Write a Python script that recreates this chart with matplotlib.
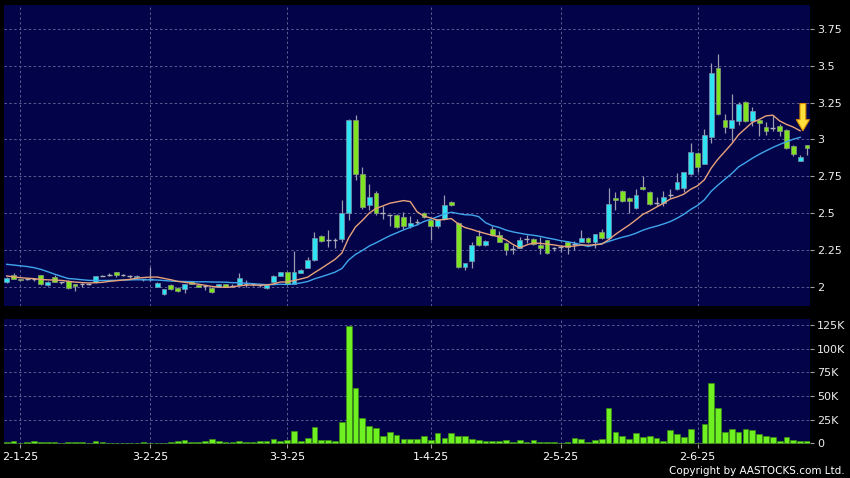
import numpy as np
import matplotlib
matplotlib.use('Agg')
import matplotlib.pyplot as plt

# ---------------- data ----------------
opens = [2.030, 2.077, 2.050, 2.055, 2.050, 2.077, 2.010, 2.068, 2.030, 2.040,
         2.015, 2.020, 2.020, 2.030, 2.075, 2.080, 2.098, 2.080, 2.070, 2.066,
         2.050, 2.050, 2.000, 1.950, 2.009, 1.989, 1.982, 2.036, 2.014, 2.005,
         1.990, 2.000, 2.016, 2.008, 2.012, 2.020, 2.018, 2.012, 1.990, 2.030,
         2.075, 2.098, 2.020, 2.095, 2.129, 2.181, 2.344, 2.317, 2.320, 2.322,
         2.498, 3.132, 2.765, 2.553, 2.638, 2.498, 2.490, 2.490, 2.470, 2.410,
         2.440, 2.498, 2.453, 2.412, 2.457, 2.575, 2.434, 2.131, 2.176, 2.344,
         2.280, 2.394, 2.349, 2.299, 2.256, 2.265, 2.324, 2.324, 2.280, 2.317,
         2.260, 2.270, 2.303, 2.290, 2.305, 2.328, 2.300, 2.370, 2.329, 2.600,
         2.650, 2.600, 2.532, 2.680, 2.643, 2.566, 2.565, 2.620, 2.661, 2.668,
         2.765, 2.910, 2.833, 3.018, 3.483, 3.132, 3.080, 3.125, 3.256, 3.125,
         3.130, 3.082, 3.080, 3.090, 3.064, 2.955, 2.855, 2.960]
highs = [2.065, 2.090, 2.055, 2.060, 2.060, 2.080, 2.040, 2.080, 2.035, 2.045,
         2.020, 2.025, 2.025, 2.075, 2.080, 2.090, 2.100, 2.085, 2.080, 2.080,
         2.055, 2.136, 2.030, 1.985, 2.015, 1.995, 2.020, 2.040, 2.020, 2.010,
         1.995, 2.020, 2.020, 2.015, 2.090, 2.045, 2.025, 2.020, 2.020, 2.080,
         2.100, 2.100, 2.245, 2.120, 2.200, 2.370, 2.350, 2.385, 2.330, 2.588,
         3.140, 3.165, 2.815, 2.700, 2.650, 2.550, 2.490, 2.495, 2.510, 2.480,
         2.460, 2.510, 2.460, 2.460, 2.623, 2.580, 2.440, 2.160, 2.305, 2.385,
         2.315, 2.410, 2.380, 2.305, 2.285, 2.340, 2.350, 2.330, 2.340, 2.320,
         2.270, 2.280, 2.310, 2.310, 2.385, 2.335, 2.360, 2.390, 2.668, 2.640,
         2.655, 2.610, 2.660, 2.750, 2.650, 2.610, 2.650, 2.660, 2.770, 2.780,
         2.977, 2.915, 3.070, 3.520, 3.580, 3.170, 3.310, 3.256, 3.260, 3.220,
         3.140, 3.115, 3.165, 3.105, 3.070, 2.960, 2.895, 2.965]
lows = [2.025, 2.050, 2.040, 2.045, 2.040, 2.010, 2.005, 2.030, 2.020, 1.985,
        1.970, 1.995, 2.010, 2.025, 2.070, 2.070, 2.065, 2.075, 2.060, 2.060,
        2.040, 2.040, 1.995, 1.945, 1.975, 1.965, 1.960, 2.015, 1.995, 1.975,
        1.960, 1.995, 1.995, 2.000, 2.005, 2.000, 2.005, 2.000, 1.985, 2.025,
        2.070, 2.015, 2.015, 2.090, 2.125, 2.175, 2.300, 2.270, 2.265, 2.300,
        2.450, 2.724, 2.530, 2.520, 2.490, 2.460, 2.410, 2.400, 2.395, 2.400,
        2.420, 2.465, 2.317, 2.400, 2.450, 2.550, 2.125, 2.115, 2.130, 2.275,
        2.275, 2.345, 2.300, 2.215, 2.220, 2.260, 2.295, 2.285, 2.225, 2.220,
        2.240, 2.235, 2.220, 2.250, 2.300, 2.295, 2.260, 2.325, 2.320, 2.520,
        2.575, 2.500, 2.525, 2.655, 2.555, 2.550, 2.550, 2.605, 2.655, 2.645,
        2.760, 2.780, 2.830, 2.978, 3.165, 3.040, 2.990, 3.100, 3.115, 3.090,
        3.020, 3.030, 3.055, 3.020, 2.935, 2.885, 2.850, 2.895]
closes = [2.057, 2.055, 2.045, 2.055, 2.050, 2.015, 2.035, 2.034, 2.030, 1.990,
          2.005, 2.020, 2.020, 2.072, 2.075, 2.080, 2.080, 2.080, 2.070, 2.075,
          2.050, 2.050, 2.023, 1.982, 1.982, 1.969, 2.018, 2.020, 2.000, 2.005,
          1.966, 2.016, 2.000, 2.008, 2.057, 2.020, 2.018, 2.012, 2.014, 2.075,
          2.098, 2.020, 2.098, 2.113, 2.179, 2.328, 2.308, 2.317, 2.320, 2.498,
          3.132, 2.765, 2.540, 2.607, 2.498, 2.498, 2.490, 2.407, 2.410, 2.430,
          2.440, 2.470, 2.412, 2.457, 2.555, 2.553, 2.131, 2.158, 2.281, 2.281,
          2.310, 2.349, 2.306, 2.249, 2.256, 2.317, 2.324, 2.290, 2.260, 2.227,
          2.260, 2.270, 2.267, 2.290, 2.328, 2.300, 2.358, 2.330, 2.561, 2.590,
          2.580, 2.580, 2.620, 2.660, 2.561, 2.566, 2.610, 2.620, 2.709, 2.776,
          2.912, 2.815, 3.030, 3.453, 3.173, 3.082, 3.130, 3.238, 3.125, 3.193,
          3.110, 3.059, 3.080, 3.060, 2.940, 2.900, 2.878, 2.940]
# volume in thousands of shares
volumes_k = [1.0, 2.0, 0.5, 1.5, 2.0, 1.8, 1.5, 1.5, 0.3, 1.5,
             1.5, 1.5, 0.3, 2.5, 1.5, 0.5, 0.5, 0.3, 0.3, 0.3,
             1.5, 0.3, 0.3, 0.3, 1.5, 2.5, 3.0, 1.0, 1.0, 2.0,
             4.5, 2.5, 1.5, 1.5, 2.0, 1.5, 1.5, 2.0, 2.0, 5.0,
             2.0, 3.0, 13.0, 2.8, 5.5, 17.0, 4.0, 3.0, 2.0, 22.5,
             124.0, 58.0, 27.0, 18.5, 16.0, 8.0, 12.5, 9.0, 4.5, 4.5,
             4.5, 7.5, 3.0, 10.5, 6.0, 11.0, 7.5, 7.5, 4.5, 3.5,
             2.0, 2.5, 2.5, 3.5, 1.5, 3.5, 1.0, 3.0, 1.5, 1.5,
             1.0, 0.3, 1.0, 5.5, 5.0, 1.0, 3.0, 4.5, 37.5, 12.5,
             7.5, 4.5, 11.0, 7.0, 8.0, 5.5, 2.5, 14.5, 10.0, 7.0,
             15.0, 0.5, 20.5, 63.5, 37.5, 12.0, 15.0, 12.5, 15.0, 14.0,
             9.5, 7.5, 7.0, 2.5, 7.0, 3.5, 2.5, 2.5]
# closes before the visible window (needed for the moving averages)
prior_closes = [2.15, 2.15, 2.16, 2.20, 2.25, 2.35, 2.36, 2.34, 2.28, 2.07,
                2.12, 2.10, 2.09, 2.08, 2.07, 2.06, 2.05, 2.05, 2.053]
date_labels = ['2-1-25', '3-2-25', '3-3-25', '1-4-25', '2-5-25', '2-6-25']
date_label_idx = [2, 21, 41, 62, 81, 101]
price_ticks = [2.0, 2.25, 2.5, 2.75, 3.0, 3.25, 3.5, 3.75]
vol_ticks_k = [0, 25, 50, 75, 100, 125]

# ---------------- styling ----------------
BG = '#03034a'
CYAN = '#2fe3f2'
GREEN = '#80e322'
DOJI = '#b0b0b8'
WICK = '#9a9ab0'
VOLC = '#6ff021'
GRID = '#5c5c92'

o = np.array(opens); h = np.array(highs); l = np.array(lows); c = np.array(closes)
v = np.array(volumes_k)
x = np.arange(len(c))

allc = np.concatenate([prior_closes, c])
def sma(arr, n):
    s = np.convolve(arr, np.ones(n) / n, mode='valid')
    return s
ma10 = sma(allc, 10)[len(prior_closes) - 9:]
ma20 = sma(allc, 20)[len(prior_closes) - 19:]

fig = plt.figure(figsize=(8.5, 4.78), dpi=100, facecolor='black')
ax = fig.add_axes([4 / 850, 1 - 306 / 478, 806 / 850, 301 / 478])
axv = fig.add_axes([4 / 850, 1 - 444 / 478, 806 / 850, 125 / 478], sharex=ax)

for a in (ax, axv):
    a.set_facecolor(BG)
    for s in a.spines.values():
        s.set_visible(False)
    a.set_axisbelow(True)
    a.grid(True, color=GRID, linestyle=(0, (2.5, 2.5)), linewidth=0.7)
    a.yaxis.tick_right()
    a.tick_params(axis='y', colors='#a0a0a0', labelcolor='#eeeeee',
                  labelsize=8, length=3, width=0.8, pad=2)

# candles
up = c > o
dn = c < o
dj = c == o
ax.vlines(x, l, h, color=WICK, linewidth=0.9, zorder=2)
ax.bar(x[up], (c - o)[up], bottom=o[up], width=0.7, color=CYAN,
       edgecolor='#7d8fa8', linewidth=0.5, zorder=3)
ax.bar(x[dn], (o - c)[dn], bottom=c[dn], width=0.7, color=GREEN,
       edgecolor='#8a9a80', linewidth=0.5, zorder=3)
ax.hlines(c[dj], x[dj] - 0.35, x[dj] + 0.35, color=DOJI, linewidth=1.0, zorder=3)

# moving averages (lines stop one bar before the last candle)
ax.plot(x[:-1], ma20[:-1], color='#3fa6ec', linewidth=1.0, zorder=4)
ax.plot(x[:-1], ma10[:-1], color='#e8a27a', linewidth=1.0, zorder=4)

# arrow marker above the last moving-average point
tip_x = x[-2] + 0.4
tip_y = ma10[-2]
ax.annotate('', xy=(tip_x, tip_y), xytext=(tip_x, tip_y + 0.185),
            arrowprops=dict(arrowstyle='simple,head_width=0.95,head_length=0.8,tail_width=0.42',
                            fc='#ffe03c', ec='#d98c00', lw=0.8, shrinkA=0, shrinkB=0),
            zorder=6)

ax.set_xlim(-0.39, 117.44)
ax.set_ylim(1.869, 3.912)
ax.set_yticks(price_ticks)
ax.set_yticklabels([('%g' % t) for t in price_ticks])

# volume
axv.bar(x, v, width=0.84, color=VOLC, edgecolor='#3b8f12', linewidth=0.5, zorder=3)
axv.set_ylim(-0.7, 131.3)
axv.set_yticks(vol_ticks_k)
axv.set_yticklabels(['0' if t == 0 else '%dK' % t for t in vol_ticks_k])

axv.set_xticks(date_label_idx)
axv.set_xticklabels(date_labels)
axv.tick_params(axis='x', colors='#a0a0a0', labelcolor='#ffffff', labelsize=8,
                length=3, width=0.8, pad=3)
ax.tick_params(axis='x', bottom=False, labelbottom=False)

fig.text(845 / 850, 1 - 471.5 / 478, 'Copyright by AASTOCKS.com Ltd.',
         ha='right', va='center', color='#ffffff', fontsize=7.5)

fig.savefig('out.png', dpi=100, facecolor='black')
